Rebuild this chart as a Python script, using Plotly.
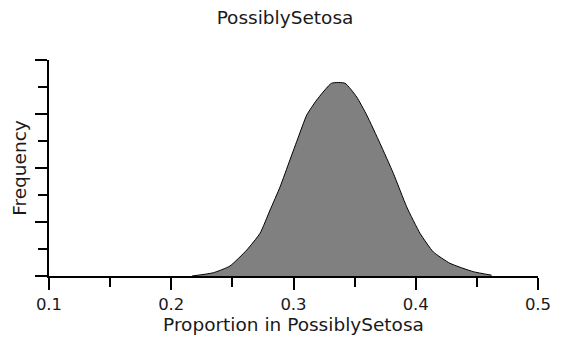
import plotly.graph_objects as go

# Data (density-like frequency curve)
proportion = [0.217, 0.2344, 0.248, 0.2617, 0.2726, 0.2808, 0.289, 0.2971, 0.304, 0.3108,
              0.319, 0.3312, 0.3421, 0.3517, 0.3599, 0.3708, 0.3817, 0.3926, 0.4035, 0.4144,
              0.428, 0.4471, 0.462]
frequency = [0.0, 0.12, 0.37, 0.96, 1.58, 2.44, 3.30, 4.30, 5.15, 5.96,
             6.52, 7.14, 7.14, 6.63, 5.96, 4.91, 3.80, 2.56, 1.58, 0.89,
             0.47, 0.16, 0.03]
x_major_ticks = [0.1, 0.2, 0.3, 0.4, 0.5]
x_tick_labels = ["0.1", "0.2", "0.3", "0.4", "0.5"]

FONT = "DejaVu Sans, Verdana, sans-serif"
TXT = "#1a1a1a"

# page body has an 8px default margin, so the figure is sized to fit inside it
W, H = 554, 335

fig = go.Figure()
fig.add_trace(go.Scatter(
    x=proportion, y=frequency, mode="lines",
    fill="tozeroy", fillcolor="#808080",
    line=dict(color="black", width=1, shape="spline", smoothing=0.5),
    hoverinfo="skip", showlegend=False,
))

fig.update_layout(
    width=W, height=H,
    margin=dict(l=41, r=24, t=52, b=67),
    paper_bgcolor="white", plot_bgcolor="white",
    font=dict(family=FONT, size=18.5, color=TXT),
    title=dict(text="PossiblySetosa", x=0.5, xanchor="center",
               yref="container", y=1 - 10 / H, yanchor="middle",
               font=dict(family=FONT, size=18.5, color=TXT)),
    showlegend=False,
)

fig.update_xaxes(
    range=[0.1, 0.5], showgrid=False, zeroline=False, automargin=False,
    showline=True, linecolor="black", linewidth=2,
    tickmode="array", tickvals=x_major_ticks, ticktext=x_tick_labels,
    ticks="outside", ticklen=12, tickwidth=2, tickcolor="black",
    tickfont=dict(family=FONT, size=16.5, color=TXT),
    minor=dict(dtick=0.05, tick0=0.1, ticks="outside", ticklen=9, tickwidth=2, tickcolor="black"),
    title=dict(text="Proportion in PossiblySetosa", standoff=0,
               font=dict(family=FONT, size=18.5, color=TXT)),
)

fig.update_yaxes(
    range=[0, 8], showgrid=False, zeroline=False, automargin=False,
    showline=True, linecolor="black", linewidth=2,
    tickmode="linear", tick0=0, dtick=2, showticklabels=False,
    ticks="outside", ticklen=12, tickwidth=2, tickcolor="black",
    minor=dict(dtick=1, tick0=0, ticks="outside", ticklen=9, tickwidth=2, tickcolor="black"),
    title=dict(text="Frequency", standoff=4,
               font=dict(family=FONT, size=18.5, color=TXT)),
)

fig.write_html("out.html")
